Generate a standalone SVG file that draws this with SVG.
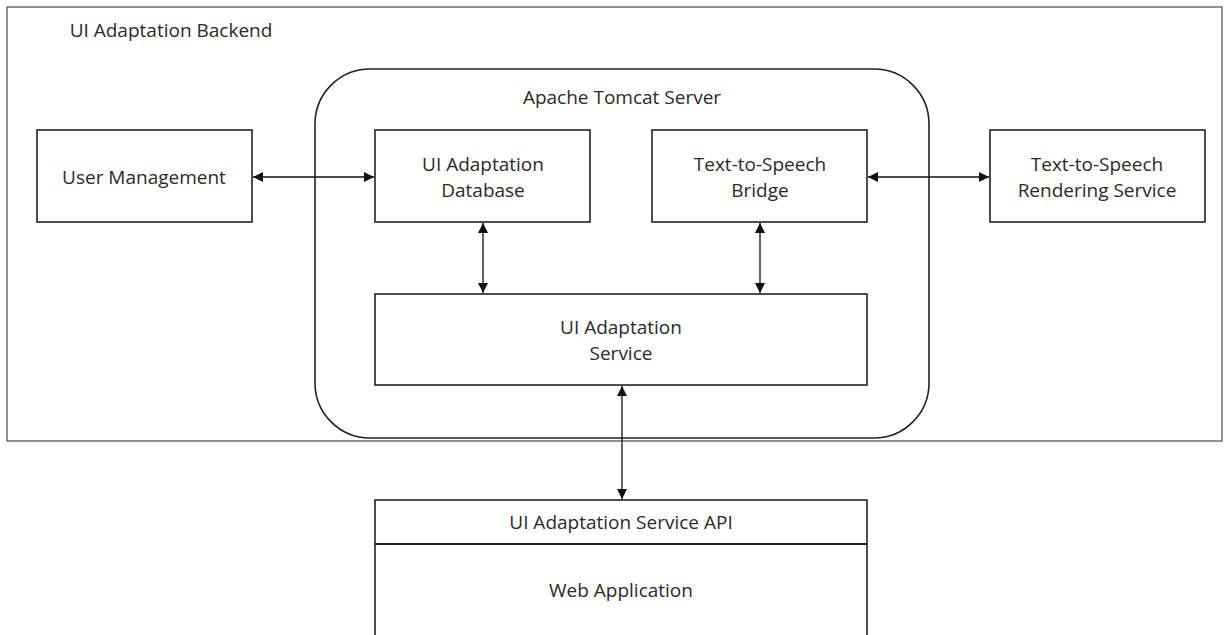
<svg xmlns="http://www.w3.org/2000/svg" width="1229" height="635" viewBox="0 0 1229 635">
<style>
text{font-family:"Open Sans","Liberation Sans",sans-serif;font-size:19px;fill:#2a2a2a;text-anchor:middle}
.box{fill:#fff;stroke:#222;stroke-width:1.6}
.con{stroke:#111;stroke-width:1.3;fill:none;marker-start:url(#ah);marker-end:url(#ah)}
</style>
<defs>
<marker id="ah" viewBox="0 0 10 10" refX="10" refY="5" markerWidth="13" markerHeight="10" markerUnits="userSpaceOnUse" orient="auto-start-reverse">
<path d="M0,0 L10,5 L0,10 z" fill="#111"/>
</marker>
</defs>
<rect width="1229" height="635" fill="#fff"/>
<g id="backend">
<rect x="7" y="7" width="1215" height="434" fill="none" stroke="#555" stroke-width="1.3"/>
<text x="171" y="37">UI Adaptation Backend</text>
</g>
<g id="tomcat">
<rect x="315" y="69" width="614" height="369" rx="55" ry="55" fill="none" stroke="#222" stroke-width="1.6"/>
<text x="622" y="104">Apache Tomcat Server</text>
</g>
<g id="connectors">
<line class="con" x1="253" y1="177" x2="374" y2="177"/>
<line class="con" x1="868" y1="177" x2="989" y2="177"/>
<line class="con" x1="483" y1="223" x2="483" y2="293"/>
<line class="con" x1="760" y1="223" x2="760" y2="293"/>
<line class="con" x1="622" y1="386" x2="622" y2="499"/>
</g>
<g id="user-management">
<rect class="box" x="37" y="130" width="215" height="92"/>
<text x="144" y="184">User Management</text>
</g>
<g id="ui-db">
<rect class="box" x="375" y="130" width="215" height="92"/>
<text x="483" y="171">UI Adaptation</text>
<text x="483" y="197">Database</text>
</g>
<g id="tts-bridge">
<rect class="box" x="652" y="130" width="215" height="92"/>
<text x="760" y="171">Text-to-Speech</text>
<text x="760" y="197">Bridge</text>
</g>
<g id="tts-rendering">
<rect class="box" x="990" y="130" width="215" height="92"/>
<text x="1097" y="171">Text-to-Speech</text>
<text x="1097" y="197">Rendering Service</text>
</g>
<g id="ui-service">
<rect class="box" x="375" y="294" width="492" height="91"/>
<text x="621" y="334">UI Adaptation</text>
<text x="621" y="360">Service</text>
</g>
<g id="web-app">
<rect class="box" x="375" y="500" width="492" height="145"/>
<line x1="375" y1="544" x2="867" y2="544" stroke="#222" stroke-width="2"/>
<text x="621" y="529">UI Adaptation Service API</text>
<text x="621" y="597">Web Application</text>
</g>
</svg>
